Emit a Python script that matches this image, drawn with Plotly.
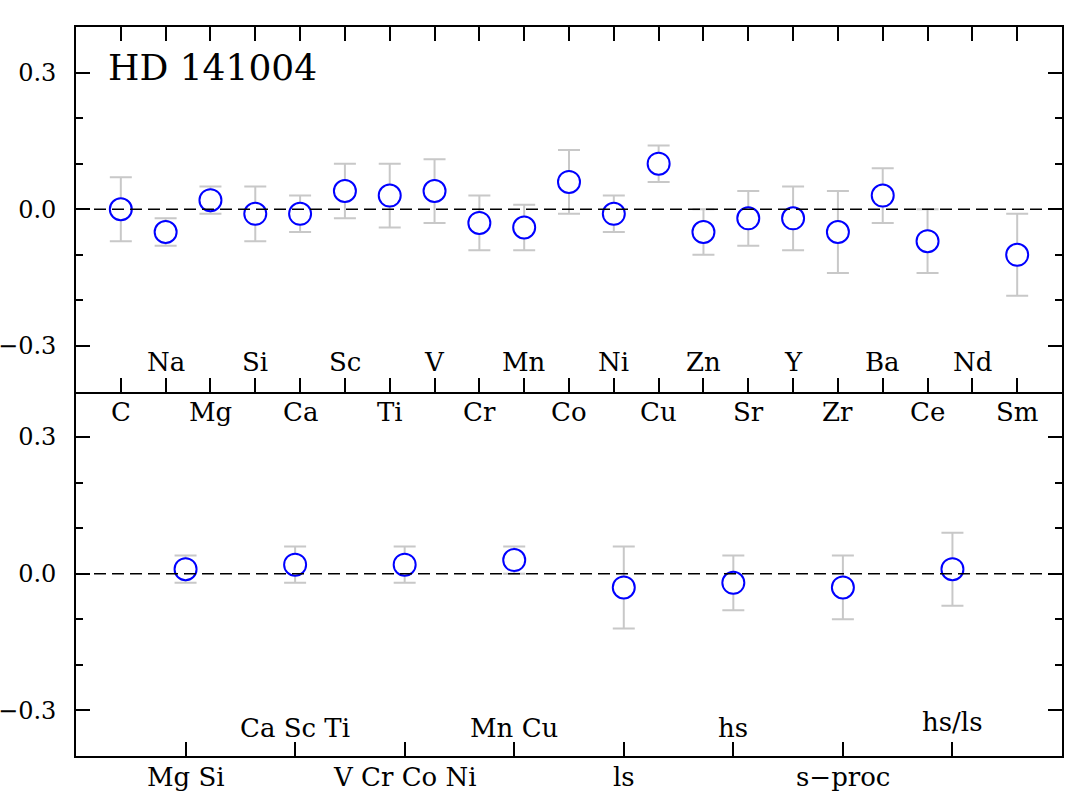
import plotly.graph_objects as go

# ---- data: top panel (individual elements) ----
elements = ["C", "Na", "Mg", "Si", "Ca", "Sc", "Ti", "V", "Cr", "Mn", "Co",
            "Ni", "Cu", "Zn", "Sr", "Y", "Zr", "Ba", "Ce", "Nd", "Sm"]
elem_val = [0.00, -0.05, 0.02, -0.01, -0.01, 0.04, 0.03, 0.04, -0.03, -0.04, 0.06,
            -0.01, 0.10, -0.05, -0.02, -0.02, -0.05, 0.03, -0.07, None, -0.10]
elem_err = [0.07, 0.03, 0.03, 0.06, 0.04, 0.06, 0.07, 0.07, 0.06, 0.05, 0.07,
            0.04, 0.04, 0.05, 0.06, 0.07, 0.09, 0.06, 0.07, None, 0.09]

# ---- data: bottom panel (groups) ----
groups = ["Mg Si", "Ca Sc Ti", "V Cr Co Ni", "Mn Cu", "ls", "hs", "s\u2212proc", "hs/ls"]
group_val = [0.01, 0.02, 0.02, 0.03, -0.03, -0.02, -0.03, 0.01]
group_err = [0.03, 0.04, 0.04, 0.03, 0.09, 0.06, 0.07, 0.08]

title_text = "HD 141004"
ytick_vals = [-0.3, 0.0, 0.3]
ytick_text = ["\u22120.3", "0.0", "0.3"]

FONT = "DejaVu Serif"
BLUE = "#0000ff"
GREY = "#c8c8c8"

x_el = list(range(1, len(elements) + 1))
x_gr = list(range(1, len(groups) + 1))

fig = go.Figure()

def add_points(xs, ys, es, xa, ya):
    px, py, pe = [], [], []
    for x, y, e in zip(xs, ys, es):
        if y is None:
            continue
        px.append(x); py.append(y); pe.append(e)
    fig.add_trace(go.Scatter(
        x=px, y=py, xaxis=xa, yaxis=ya, mode="markers",
        marker=dict(symbol="circle", size=22, color="white",
                    line=dict(color=BLUE, width=2)),
        error_y=dict(type="data", array=pe, visible=True, color=GREY,
                     thickness=2, width=11),
        showlegend=False, cliponaxis=False))

add_points(x_el, elem_val, elem_err, "x", "y")
add_points(x_gr, group_val, group_err, "x2", "y2")

yaxis_common = dict(
    range=[-0.4, 0.4], tickvals=ytick_vals, ticktext=ytick_text,
    ticks="inside", ticklen=14, tickwidth=1.5, tickcolor="black",
    showline=True, linecolor="black", linewidth=1.8, mirror="allticks",
    showgrid=False, zeroline=False, automargin=False,
    minor=dict(dtick=0.1, tick0=0, ticks="inside", ticklen=7,
               tickwidth=1.5, tickcolor="black", showgrid=False),
    tickfont=dict(family=FONT, size=24, color="black"),
    ticklabelstandoff=13,
)

xaxis_common = dict(
    domain=[0, 1], ticks="inside", ticklen=14, tickwidth=1.5, tickcolor="black",
    showline=True, linecolor="black", linewidth=1.8,
    showgrid=False, zeroline=False, automargin=False,
)

fig.update_layout(
    width=1067, height=797,
    margin=dict(l=76, r=5, t=27, b=41),
    paper_bgcolor="white", plot_bgcolor="white",
    xaxis=dict(range=[0, len(elements) + 1], anchor="y",
               tickvals=x_el, ticktext=[""] * len(x_el),
               mirror="allticks", **xaxis_common),
    yaxis=dict(domain=[0.5, 1], anchor="x", **yaxis_common),
    xaxis2=dict(range=[0, len(groups) + 1], anchor="y2",
                tickvals=x_gr, ticktext=[""] * len(x_gr),
                mirror=False, **xaxis_common),
    yaxis2=dict(domain=[0, 0.5], anchor="x2", **yaxis_common),
    font=dict(family=FONT, color="black"),
)

# dashed zero lines
for xr, yr in [("x domain", "y"), ("x2 domain", "y2")]:
    fig.add_shape(type="line", xref=xr, yref=yr, x0=0, x1=1, y0=0, y1=0,
                  line=dict(color="black", width=1.5, dash="12px,6px"),
                  layer="above")

LABEL_SIZE = 26

# element labels (alternating below / above the axis)
for i, (x, name) in enumerate(zip(x_el, elements)):
    below = (i % 2 == 0)
    fig.add_annotation(x=x, xref="x", y=0, yref="y domain", text=name,
                       showarrow=False, yanchor="middle",
                       yshift=-20 if below else 30,
                       font=dict(family=FONT, size=LABEL_SIZE, color="black"))

for i, (x, name) in enumerate(zip(x_gr, groups)):
    below = (i % 2 == 0)
    shift = -21 if below else 28
    if name == "hs/ls":
        shift += 6
    fig.add_annotation(x=x, xref="x2", y=0, yref="y2 domain", text=name,
                       showarrow=False, yanchor="middle", yshift=shift,
                       font=dict(family=FONT, size=LABEL_SIZE, color="black"))

fig.add_annotation(x=0.030, xref="paper", y=1, yref="paper", text=title_text,
                   showarrow=False, xanchor="left", yanchor="top", yshift=-18,
                   font=dict(family=FONT, size=36, color="black"))

fig.write_html("out.html",
               config={"displayModeBar": False},
               post_script="document.body.style.margin='0';"
                           "document.body.style.overflow='hidden';")
